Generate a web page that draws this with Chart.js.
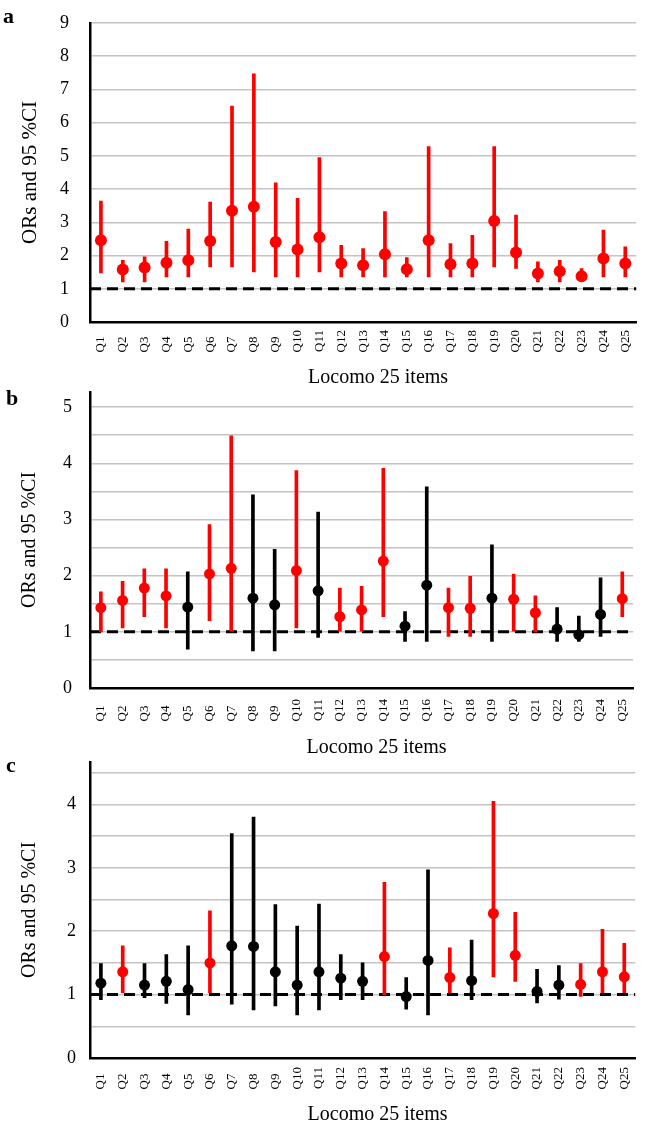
<!DOCTYPE html>
<html>
<head>
<meta charset="utf-8">
<script src="https://cdn.jsdelivr.net/npm/chart.js@4.4.1/dist/chart.umd.min.js"></script>
<style>
  body { margin: 0; background: #fff; }
  #wrap { position: relative; width: 649px; height: 1127px; overflow: hidden; }
  .panel { position: absolute; left: 0; width: 649px; }
  .tag { position: absolute; left: 3px; font: bold 22px 'Liberation Serif', serif; line-height: 22px; color: #000; }
</style>
</head>
<body>
<div id="wrap">
  <div class="panel" style="top:0px;height:390px"><canvas id="chartA" width="649" height="390"></canvas></div>
  <div class="panel" style="top:378px;height:382px"><canvas id="chartB" width="649" height="382"></canvas></div>
  <div class="panel" style="top:748px;height:379px"><canvas id="chartC" width="649" height="379"></canvas></div>
  <div class="tag" style="top:5px">a</div>
  <div class="tag" style="top:387px;left:6px">b</div>
  <div class="tag" style="top:754px;left:6px">c</div>
</div>
<script>
const categories = ['Q1', 'Q2', 'Q3', 'Q4', 'Q5', 'Q6', 'Q7', 'Q8', 'Q9', 'Q10', 'Q11', 'Q12', 'Q13',
    'Q14', 'Q15', 'Q16', 'Q17', 'Q18', 'Q19', 'Q20', 'Q21', 'Q22', 'Q23', 'Q24', 'Q25'];

// panel a
const orA = [2.46, 1.58, 1.64, 1.78, 1.86, 2.44, 3.35, 3.47, 2.41, 2.18, 2.55, 1.76, 1.71,
    2.04, 1.59, 2.46, 1.74, 1.76, 3.04, 2.09, 1.46, 1.53, 1.38, 1.91, 1.76];
const lowA = [1.48, 1.21, 1.21, 1.36, 1.36, 1.66, 1.66, 1.51, 1.36, 1.36, 1.51, 1.36, 1.36,
    1.36, 1.36, 1.36, 1.36, 1.36, 1.66, 1.61, 1.21, 1.21, 1.23, 1.36, 1.36];
const highA = [3.64, 1.86, 1.96, 2.43, 2.80, 3.61, 6.50, 7.47, 4.19, 3.72, 4.95, 2.31, 2.21,
    3.32, 1.94, 5.28, 2.36, 2.61, 5.28, 3.22, 1.81, 1.86, 1.61, 2.77, 2.26];
const sigA = [1, 1, 1, 1, 1, 1, 1, 1, 1, 1, 1, 1, 1, 1, 1, 1, 1, 1, 1, 1, 1, 1, 1, 1, 1];

// panel b
const orB = [1.43, 1.56, 1.78, 1.64, 1.44, 2.03, 2.13, 1.60, 1.48, 2.09, 1.73, 1.27, 1.39,
    2.26, 1.10, 1.83, 1.43, 1.42, 1.60, 1.58, 1.34, 1.05, 0.95, 1.31, 1.59];
const lowB = [1.00, 1.07, 1.27, 1.07, 0.69, 1.20, 1.01, 0.66, 0.66, 1.07, 0.90, 1.01, 1.01,
    1.27, 0.83, 0.83, 0.92, 0.92, 0.83, 1.01, 1.00, 0.83, 0.83, 0.92, 1.27];
const highB = [1.71, 1.90, 2.12, 2.12, 2.07, 2.91, 4.49, 3.44, 2.47, 3.87, 3.13, 1.78, 1.81,
    3.91, 1.36, 3.58, 1.78, 1.99, 2.55, 2.03, 1.64, 1.43, 1.28, 1.96, 2.07];
const sigB = [1, 1, 1, 1, 0, 1, 1, 0, 0, 1, 0, 1, 1, 1, 0, 0, 1, 1, 0, 1, 1, 0, 0, 0, 1];

// panel c
const orC = [1.18, 1.36, 1.15, 1.21, 1.08, 1.50, 1.77, 1.76, 1.36, 1.15, 1.36, 1.26, 1.21,
    1.60, 0.97, 1.54, 1.27, 1.22, 2.28, 1.62, 1.05, 1.15, 1.16, 1.36, 1.28];
const lowC = [0.92, 1.03, 0.95, 0.86, 0.68, 1.03, 0.85, 0.76, 0.82, 0.68, 0.76, 0.92, 0.92,
    1.00, 0.77, 0.68, 1.03, 0.92, 1.28, 1.21, 0.87, 0.93, 0.97, 1.03, 1.03];
const highC = [1.49, 1.77, 1.49, 1.63, 1.77, 2.32, 3.54, 3.80, 2.42, 2.08, 2.43, 1.63, 1.50,
    2.77, 1.27, 2.97, 1.74, 1.86, 4.05, 2.30, 1.40, 1.46, 1.49, 2.03, 1.81];
const sigC = [0, 1, 0, 0, 0, 1, 0, 0, 0, 0, 0, 0, 0, 1, 0, 0, 1, 0, 1, 1, 0, 0, 1, 1, 1];

const refValue = 1;

// dashed reference line at OR = 1
const refLine = {
    id: 'refLine',
    beforeDatasetsDraw(chart) {
        const { ctx, chartArea, scales } = chart;
        const y = scales.y.getPixelForValue(refValue);
        ctx.save();
        ctx.strokeStyle = '#000';
        ctx.lineWidth = 3;
        ctx.setLineDash([11, 6]);
        ctx.beginPath();
        ctx.moveTo(chartArea.left, y);
        ctx.lineTo(chartArea.right, y);
        ctx.stroke();
        ctx.restore();
    }
};

function makeChart(id, or, low, high, sig, opt) {
    const colors = sig.map(s => s ? '#ff0000' : '#000000');
    return new Chart(document.getElementById(id), {
        type: 'bar',
        data: {
            labels: categories,
            datasets: [{
                type: 'line',
                data: or,
                showLine: false,
                pointRadius: opt.radius,
                pointHoverRadius: opt.radius,
                pointBackgroundColor: colors,
                pointBorderColor: colors,
                pointBorderWidth: 0,
                order: 0
            }, {
                type: 'bar',
                data: categories.map((c, i) => [low[i], high[i]]),
                backgroundColor: colors,
                barThickness: 3,
                order: 1
            }]
        },
        options: {
            responsive: false,
            animation: false,
            layout: { padding: { top: opt.top, right: 6, left: 0, bottom: 0 } },
            plugins: {
                legend: { display: false },
                tooltip: { enabled: false }
            },
            scales: {
                x: {
                    offset: true,
                    grid: { display: false, drawTicks: false },
                    border: { color: '#000', width: 2.5 },
                    ticks: {
                        autoSkip: false,
                        minRotation: 90,
                        maxRotation: 90,
                        padding: opt.xPad,
                        color: '#000',
                        font: { family: 'Liberation Serif', size: 13 },
                        callback: function (v) {
                            const lab = this.getLabelForValue(v);
                            return lab.length < 3 ? lab + '\u2002' : lab;
                        }
                    },
                    afterFit: s => { s.height = opt.xHeight; },
                    title: {
                        display: true,
                        // leading spaces nudge the centred title right, as in the original
                        text: '\u2002\u2002\u2002Locomo 25 items',
                        color: '#000',
                        font: { family: 'Liberation Serif', size: 20 },
                        padding: { top: 0, bottom: 0 }
                    }
                },
                y: {
                    min: 0,
                    max: opt.max,
                    ticks: {
                        stepSize: opt.step,
                        includeBounds: false,
                        padding: opt.yPad,
                        color: '#000',
                        font: { family: 'Liberation Serif', size: 18 },
                        callback: v => Math.abs(v - Math.round(v)) < 1e-6 ? Math.round(v) : ''
                    },
                    afterBuildTicks: s => {
                        s.ticks = s.ticks.filter(t => Math.abs(t.value / opt.step - Math.round(t.value / opt.step)) < 1e-6);
                    },
                    afterFit: s => {
                        s.width = 90;
                        s.paddingTop = 0;
                        s.paddingBottom = 0;
                    },
                    grid: { color: '#c4c4c4', lineWidth: 1.5, drawTicks: false },
                    border: { color: '#000', width: 2.5 },
                    title: {
                        display: true,
                        text: 'ORs and 95 %CI',
                        color: '#000',
                        font: { family: 'Liberation Serif', size: opt.titleSize },
                        padding: { top: 18, bottom: 0 }
                    }
                }
            }
        },
        plugins: [refLine]
    });
}

makeChart('chartA', orA, lowA, highA, sigA,
    { max: 9, step: 1, top: 23, xHeight: 68, xPad: 8, yPad: 21, radius: 6, titleSize: 21 });
makeChart('chartB', orB, lowB, highB, sigB,
    { max: 5.27, step: 0.5, top: 14, xHeight: 72, xPad: 11, yPad: 18, radius: 5.5, titleSize: 20 });
makeChart('chartC', orC, lowC, highC, sigC,
    { max: 4.67, step: 0.5, top: 14, xHeight: 69, xPad: 9, yPad: 14, radius: 5.5, titleSize: 20 });
</script>
</body>
</html>
